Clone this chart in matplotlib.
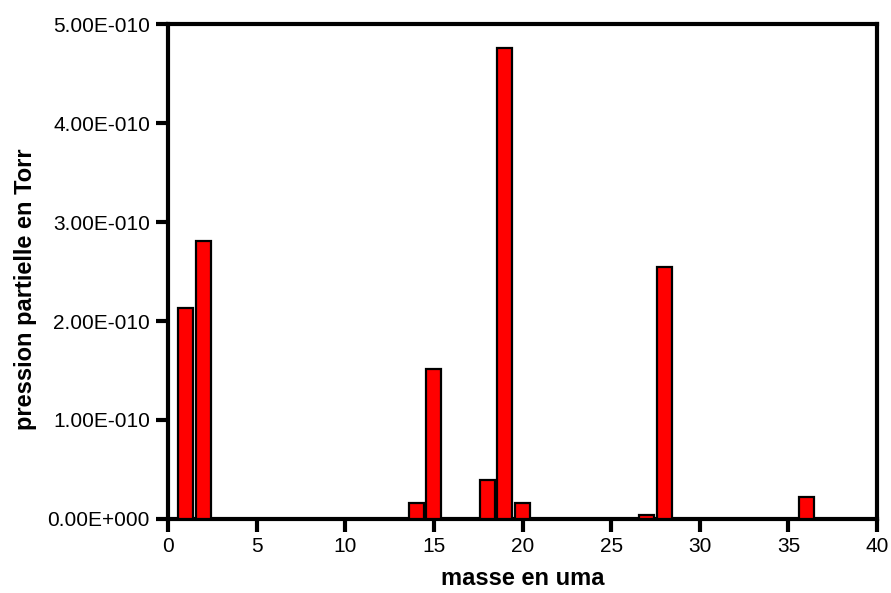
import matplotlib
matplotlib.use("Agg")
import matplotlib.pyplot as plt

plt.rcParams['font.family'] = ['Liberation Sans', 'DejaVu Sans']

masses = [1, 2, 14, 15, 18, 19, 20, 27, 28, 36]
pressures = [2.13e-10, 2.81e-10, 0.16e-10, 1.52e-10, 0.39e-10, 4.76e-10,
             0.16e-10, 0.04e-10, 2.55e-10, 0.22e-10]
x_ticks = [0, 5, 10, 15, 20, 25, 30, 35, 40]
y_ticks = [0, 1e-10, 2e-10, 3e-10, 4e-10, 5e-10]
y_tick_labels = ["0.00E+000", "1.00E-010", "2.00E-010", "3.00E-010",
                 "4.00E-010", "5.00E-010"]

fig = plt.figure(figsize=(8.91, 5.93), dpi=100)
ax = fig.add_axes([0.1886, 0.1248, 0.7957, 0.8347])

ax.bar(masses, pressures, width=0.85, color='#ff0000', edgecolor='black',
       linewidth=1.6, zorder=3)

ax.set_xlim(0, 40)
ax.set_ylim(0, 5e-10)
ax.set_xticks(x_ticks)
ax.set_xticklabels([str(t) for t in x_ticks])
ax.set_yticks(y_ticks)
ax.set_yticklabels(y_tick_labels)

for s in ax.spines.values():
    s.set_linewidth(3)
ax.tick_params(direction='out', length=9, width=3, labelsize=15, pad=4)

ax.set_xlabel("masse en uma", fontsize=17, fontweight='bold', labelpad=8)
ax.set_ylabel("pression partielle en Torr", fontsize=17, fontweight='bold')
ax.yaxis.set_label_coords(-0.185, 0.465)

fig.savefig("out.png", dpi=100)
